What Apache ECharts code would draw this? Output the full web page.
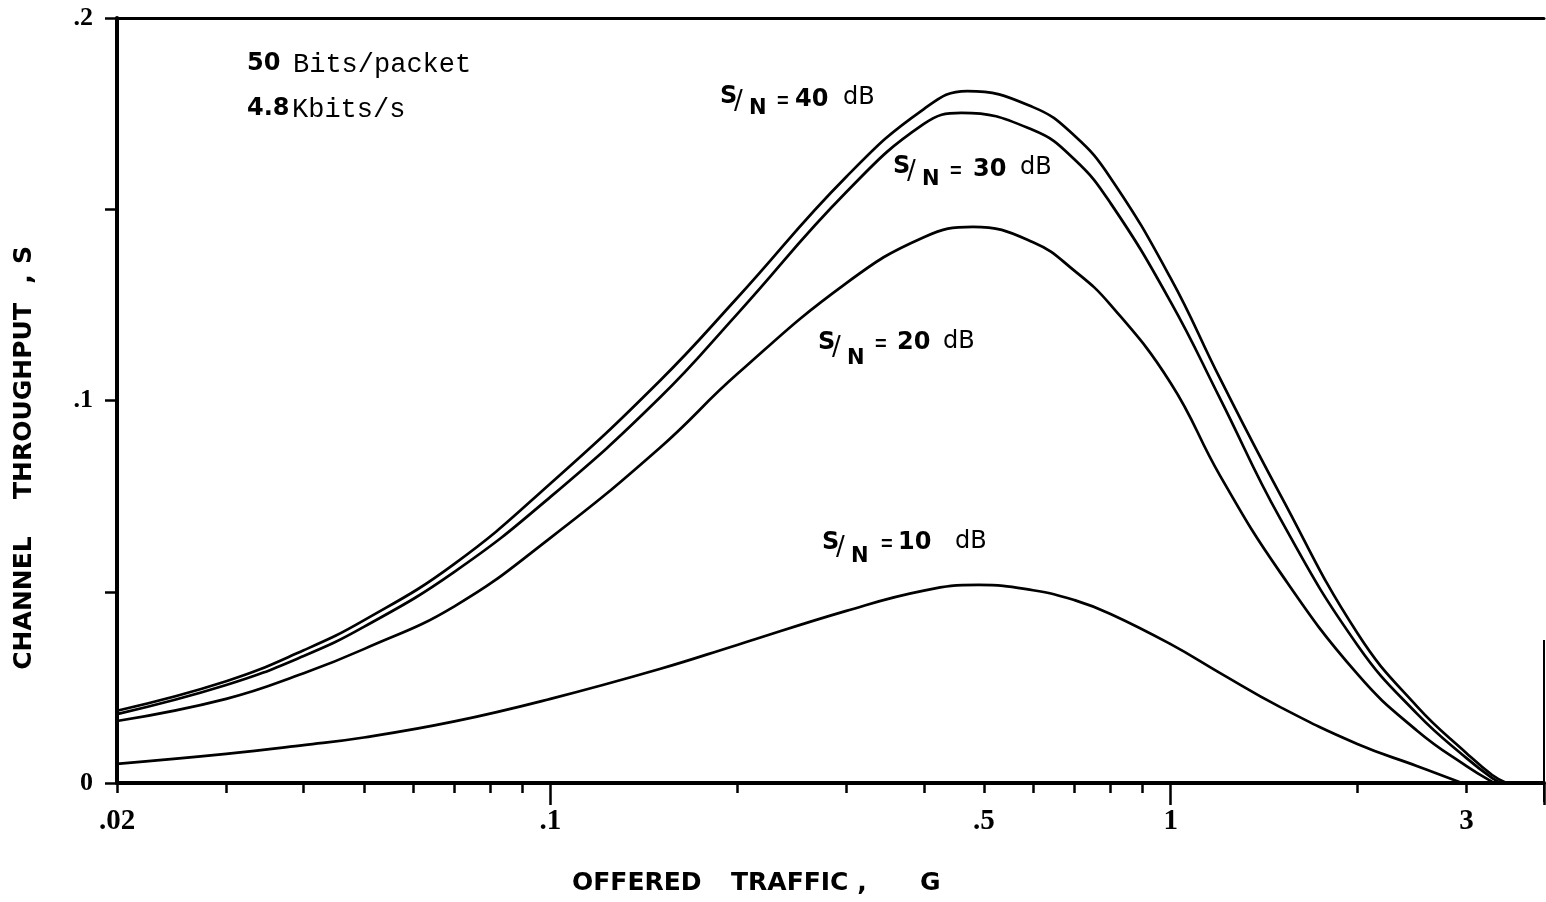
<!DOCTYPE html>
<html>
<head>
<meta charset="utf-8">
<title>Channel throughput vs offered traffic</title>
<script src="https://cdn.jsdelivr.net/npm/echarts@6/dist/echarts.min.js"></script>
<style>
  html, body { margin: 0; padding: 0; background: #fff; }
  #chart { width: 1546px; height: 902px; }
</style>
</head>
<body>
<div id="chart"></div>
<script>
// ---- Data: offered traffic G vs channel throughput S, one curve per S/N ----
const snr40 = [[0.02,0.0189],[0.03,0.0266],[0.04,0.0347],[0.05,0.0425],[0.07,0.0573],[0.1,0.0783],[0.15,0.1051],[0.2,0.1268],[0.3,0.1585],[0.4,0.1762],[0.47,0.1809],[0.6,0.1767],[0.7,0.1692],[0.8,0.1582],[1.0,0.1320],[1.2,0.1059],[1.5,0.0756],[2.0,0.0392],[2.5,0.0199],[3.0,0.0078],[3.3,0.0021],[3.48,0]];
const snr30 = [[0.02,0.0180],[0.03,0.0256],[0.04,0.0332],[0.05,0.0408],[0.07,0.0552],[0.1,0.0748],[0.15,0.1007],[0.2,0.1226],[0.3,0.1545],[0.4,0.1723],[0.46,0.1752],[0.6,0.1707],[0.7,0.1630],[0.8,0.1516],[1.0,0.1258],[1.2,0.1007],[1.5,0.0693],[2.0,0.0361],[2.5,0.0180],[3.0,0.0065],[3.3,0.0013],[3.42,0]];
const snr20 = [[0.02,0.0162],[0.03,0.0220],[0.04,0.0287],[0.05,0.0350],[0.07,0.0462],[0.1,0.0641],[0.15,0.0876],[0.2,0.1069],[0.3,0.1307],[0.4,0.1427],[0.48,0.1454],[0.6,0.1414],[0.7,0.1339],[0.8,0.1250],[1.0,0.1046],[1.2,0.0805],[1.5,0.0552],[2.0,0.0285],[2.5,0.0136],[3.0,0.0044],[3.3,0.0003],[3.35,0]];
const snr10 = [[0.02,0.0050],[0.03,0.0076],[0.04,0.0099],[0.05,0.0119],[0.07,0.0161],[0.1,0.0220],[0.15,0.0298],[0.2,0.0361],[0.3,0.0450],[0.4,0.0503],[0.49,0.0518],[0.6,0.0504],[0.7,0.0478],[0.8,0.0442],[1.0,0.0363],[1.2,0.0288],[1.5,0.0199],[2.0,0.0102],[2.5,0.0044],[2.95,0]];

const SNR_DB = ['40', '30', '20', '10'];

// Axis ticks and labels
const G_MIN = 0.02, G_MAX = 4;
const G_TICKS = [0.02,0.03,0.04,0.05,0.06,0.07,0.08,0.09,0.1,0.2,0.3,0.4,0.5,0.6,0.7,0.8,0.9,1,2,3,4];
const G_MAJOR_TICKS = [0.1, 1, 4];
const G_LABELS = [0.02, 0.1, 0.5, 1, 3];
const G_LABEL_TEXT = ['.02', '.1', '.5', '1', '3'];
const S_TICKS = [0, 0.05, 0.1, 0.15, 0.2];
const S_LABELS = [0, 0.1, 0.2];
const S_LABEL_TEXT = ['0', '.1', '.2'];

// ---- Helpers ----
const lg = Math.log10;
const toLogX = pts => pts.map(([g, s]) => [lg(g), s]);
const fmtG = v => {
  const i = G_LABELS.findIndex(g => Math.abs(lg(g) - v) < 1e-6);
  return i >= 0 ? G_LABEL_TEXT[i] : '';
};
const fmtS = v => {
  const i = S_LABELS.findIndex(s => Math.abs(s - v) < 1e-9);
  return i >= 0 ? S_LABEL_TEXT[i] : '';
};

const SANS = '"DejaVu Sans", "Liberation Sans", sans-serif';
const ARIAL = '"Liberation Sans", Arial, sans-serif';
const MONO = '"Liberation Mono", "DejaVu Sans Mono", monospace';
const SERIF = '"Liberation Serif", "DejaVu Serif", serif';

function txt(x, y, text, font, extra) {
  return Object.assign({
    type: 'text', x: x, y: y, silent: true,
    style: { text: text, font: font, fill: '#000', textAlign: 'left', textVerticalAlign: 'middle', align: 'left', verticalAlign: 'middle' }
  }, extra || {});
}

// "S/N = xx dB" curve captions
const SN_LAYOUT = [
  { x: 720, y: 97,  nDy: 12, eqX: 777, numX: 795, numDy: 3, dbX: 843, dbDy: 1 },
  { x: 893, y: 167, nDy: 13, eqX: 950, numX: 973, numDy: 3, dbX: 1020, dbDy: 1 },
  { x: 818, y: 343, nDy: 16, eqX: 875, numX: 897, numDy: 0, dbX: 943, dbDy: -1 },
  { x: 822, y: 543, nDy: 14, eqX: 881, numX: 898, numDy: 0, dbX: 955, dbDy: -1 }
];

function snCaption(L, db) {
  return [
    txt(L.x, L.y, 'S', 'bold 24px ' + SANS),
    txt(L.x + 14, L.y + 5, '/', '26px ' + SANS),
    txt(L.x + 29, L.y + L.nDy, 'N', 'bold 21px ' + SANS),
    txt(L.eqX, L.y + L.numDy + 1, '=', 'bold 20px ' + ARIAL),
    txt(L.numX, L.y + L.numDy, db, 'bold 24px ' + SANS),
    txt(L.dbX, L.y + L.dbDy, 'dB', '24px ' + SANS)
  ];
}

const graphics = [];
SN_LAYOUT.forEach((L, i) => graphics.push(...snCaption(L, SNR_DB[i])));

// Parameter notes, top left
graphics.push(
  txt(247, 64, '50', 'bold 24px ' + SANS),
  txt(293, 65, 'Bits/packet', '27px ' + MONO),
  txt(247, 109, '4.8', 'bold 24px ' + SANS),
  txt(292, 110, 'Kbits/s', '27px ' + MONO)
);

// Axis titles
graphics.push(
  txt(572, 883, 'OFFERED', 'bold 25px ' + SANS),
  txt(731, 883, 'TRAFFIC ,', 'bold 25px ' + SANS),
  txt(920, 883, 'G', 'bold 25px ' + SANS)
);
const rot = Math.PI / 2;
function vtxt(y, text) {
  return {
    type: 'text', x: 24, y: y, rotation: rot, silent: true,
    style: { text: text, font: 'bold 25px ' + SANS, fill: '#000', textAlign: 'center', textVerticalAlign: 'middle', align: 'center', verticalAlign: 'middle' }
  };
}
graphics.push(vtxt(603, 'CHANNEL'), vtxt(401, 'THROUGHPUT'), vtxt(279, ','), vtxt(255, 'S'));

// Right edge of the frame (partial)
graphics.push({
  type: 'line', silent: true,
  shape: { x1: 1544, y1: 640, x2: 1544, y2: 802 },
  style: { stroke: '#000', lineWidth: 2 }
});

const lineSeries = (data) => ({
  type: 'line',
  xAxisIndex: 0,
  yAxisIndex: 0,
  data: toLogX(data),
  showSymbol: false,
  symbol: 'none',
  smooth: 0.45,
  silent: true,
  lineStyle: { color: '#000', width: 2.7 }
});

const chart = echarts.init(document.getElementById('chart'), null, { renderer: 'canvas' });
chart.setOption({
  animation: false,
  backgroundColor: '#fff',
  grid: { left: 117, right: 2, top: 18, bottom: 119, containLabel: false, outerBoundsMode: 'none' },
  xAxis: [
    {
      type: 'value', min: lg(G_MIN), max: lg(G_MAX), position: 'bottom',
      axisLine: { show: true, onZero: false, lineStyle: { color: '#000', width: 4 } },
      axisTick: { show: true, inside: false, length: 10, customValues: G_TICKS.map(lg), lineStyle: { color: '#000', width: 2.5 } },
      axisLabel: { show: true, margin: 24, customValues: G_LABELS.map(lg), formatter: fmtG, color: '#000', fontFamily: SERIF, fontWeight: 'bold', fontSize: 29 },
      splitLine: { show: false }
    },
    {
      type: 'value', min: lg(G_MIN), max: lg(G_MAX), position: 'top',
      axisLine: { show: true, onZero: false, lineStyle: { color: '#000', width: 3 } },
      axisTick: { show: false }, axisLabel: { show: false }, splitLine: { show: false }
    },
    {
      type: 'value', min: lg(G_MIN), max: lg(G_MAX), position: 'bottom',
      axisLine: { show: false, onZero: false },
      axisTick: { show: true, inside: false, length: 22, customValues: G_MAJOR_TICKS.map(lg), lineStyle: { color: '#000', width: 2.5 } },
      axisLabel: { show: false }, splitLine: { show: false }
    }
  ],
  yAxis: {
    type: 'value', min: 0, max: 0.2, interval: 0.05,
    axisLine: { show: true, onZero: false, lineStyle: { color: '#000', width: 4 } },
    axisTick: { show: true, inside: false, length: 12, customValues: S_TICKS, lineStyle: { color: '#000', width: 2.5 } },
    axisLabel: { show: true, margin: 24, customValues: S_LABELS, formatter: fmtS, color: '#000', fontFamily: SERIF, fontWeight: 'bold', fontSize: 26 },
    splitLine: { show: false }
  },
  series: [lineSeries(snr40), lineSeries(snr30), lineSeries(snr20), lineSeries(snr10)],
  graphic: graphics
});
</script>
</body>
</html>
